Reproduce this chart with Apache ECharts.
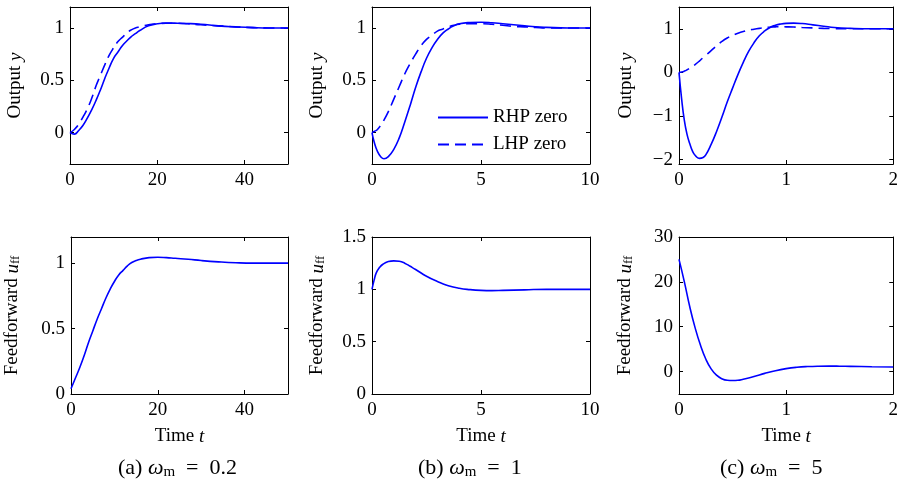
<!DOCTYPE html>
<html>
<head>
<meta charset="utf-8">
<script src="https://cdn.jsdelivr.net/npm/echarts@6/dist/echarts.min.js"></script>
<style>
  html, body { margin: 0; padding: 0; background: #fff; }
  #chart { width: 901px; height: 492px; }
</style>
</head>
<body>
<div id="chart"></div>
<script>
// (a) wm = 0.2
var tA = [0, 1, 2, 3, 4, 5, 6, 7, 8, 9, 10, 11, 12, 13, 14, 15, 16, 18, 20, 22, 24, 27, 30, 34, 38, 42, 46, 50];
var yA_rhp = [0, -0.015, 0.02, 0.07, 0.14, 0.22, 0.31, 0.41, 0.52, 0.62, 0.71, 0.77, 0.83, 0.875, 0.915, 0.945, 0.975, 1.02, 1.04, 1.047, 1.046, 1.042, 1.035, 1.02, 1.01, 1.003, 1.0, 1.0];
var yA_lhp = [0, 0.03, 0.08, 0.15, 0.23, 0.33, 0.45, 0.55, 0.65, 0.74, 0.81, 0.87, 0.91, 0.95, 0.98, 1.0, 1.01, 1.03, 1.04, 1.045, 1.045, 1.04, 1.03, 1.02, 1.01, 1.003, 1.0, 1.0];
var uA = [0.04, 0.12, 0.2, 0.29, 0.39, 0.48, 0.57, 0.65, 0.73, 0.8, 0.86, 0.91, 0.945, 0.98, 1.005, 1.02, 1.03, 1.042, 1.045, 1.042, 1.037, 1.03, 1.02, 1.01, 1.003, 1.0, 1.0, 1.0];

// (b) wm = 1
var tB = [0, 0.1, 0.25, 0.4, 0.55, 0.75, 1, 1.25, 1.5, 1.75, 2, 2.25, 2.5, 2.75, 3, 3.25, 3.5, 3.75, 4, 4.5, 5, 5.5, 6, 6.5, 7, 7.5, 8, 9, 10];
var yB_rhp = [0, -0.09, -0.18, -0.23, -0.25, -0.23, -0.16, -0.05, 0.1, 0.26, 0.43, 0.58, 0.71, 0.81, 0.89, 0.95, 0.99, 1.02, 1.04, 1.052, 1.055, 1.05, 1.04, 1.03, 1.02, 1.01, 1.005, 1.0, 1.0];
var yB_lhp = [0, 0.01, 0.03, 0.07, 0.12, 0.2, 0.32, 0.44, 0.56, 0.66, 0.75, 0.83, 0.89, 0.93, 0.97, 0.99, 1.01, 1.025, 1.035, 1.04, 1.04, 1.035, 1.025, 1.015, 1.01, 1.005, 1.0, 1.0, 1.0];
var tBu = [0, 0.1, 0.2, 0.35, 0.5, 0.75, 1, 1.25, 1.5, 1.75, 2, 2.5, 3, 3.5, 4, 4.5, 5, 5.5, 6, 7, 8, 9, 10];
var uB = [1.0, 1.09, 1.16, 1.21, 1.24, 1.265, 1.272, 1.268, 1.25, 1.22, 1.19, 1.125, 1.075, 1.035, 1.01, 0.997, 0.99, 0.988, 0.99, 0.995, 1.0, 1.0, 1.0];

// (c) wm = 5
var tC = [0, 0.025, 0.05, 0.075, 0.1, 0.125, 0.15, 0.19, 0.225, 0.25, 0.3, 0.35, 0.4, 0.45, 0.5, 0.55, 0.6, 0.65, 0.7, 0.75, 0.8, 0.85, 0.9, 0.95, 1.0, 1.07, 1.15, 1.25, 1.35, 1.45, 1.6, 1.8, 2.0];
var yC_rhp = [0, -0.62, -1.1, -1.42, -1.63, -1.8, -1.9, -1.97, -1.95, -1.89, -1.65, -1.36, -1.03, -0.68, -0.36, -0.05, 0.23, 0.48, 0.68, 0.84, 0.95, 1.03, 1.08, 1.11, 1.125, 1.13, 1.12, 1.09, 1.06, 1.03, 1.01, 1.0, 1.0];
var yC_lhp = [0, 0.01, 0.03, 0.06, 0.1, 0.14, 0.18, 0.26, 0.34, 0.39, 0.5, 0.61, 0.71, 0.79, 0.85, 0.9, 0.94, 0.97, 0.99, 1.01, 1.03, 1.04, 1.045, 1.047, 1.045, 1.04, 1.03, 1.02, 1.01, 1.005, 1.0, 1.0, 1.0];
var tCu = [0, 0.05, 0.1, 0.15, 0.2, 0.25, 0.3, 0.35, 0.4, 0.45, 0.5, 0.55, 0.6, 0.7, 0.8, 0.9, 1.0, 1.1, 1.2, 1.3, 1.4, 1.5, 1.6, 1.8, 2.0];
var uC = [25, 20.0, 14.5, 9.8, 5.9, 2.8, 0.6, -0.8, -1.6, -1.95, -2.0, -1.95, -1.7, -1.1, -0.4, 0.2, 0.65, 0.95, 1.12, 1.2, 1.22, 1.2, 1.16, 1.08, 1.03];

// axis ticks
var xTicksA = [0, 20, 40];
var xTicksB = [0, 5, 10];
var xTicksC = [0, 1, 2];
var yTicksOut = [0, 0.5, 1];
var yTicksOutC = [-2, -1, 0, 1];
var yTicksUA = [0, 0.5, 1];
var yTicksUB = [0, 0.5, 1, 1.5];
var yTicksUC = [0, 10, 20, 30];

var FONT = '"Liberation Serif", "Times New Roman", serif';
var FS = 19;
var BLUE = '#0000ff';

function zip(t, y) {
  return t.map(function (v, i) { return [v, y[i]]; });
}
function fmt(v) {
  return v < 0 ? '\u2212' + Math.abs(v) : String(v);
}

var richName = {
  r: { fontFamily: FONT, fontSize: FS, color: '#000' },
  i: { fontFamily: FONT, fontSize: FS, color: '#000', fontStyle: 'italic' },
  s: { fontFamily: FONT, fontSize: 13, color: '#000', verticalAlign: 'bottom', lineHeight: 14, padding: [8, 0, 0, 0] }
};

// panel layout: [left, top, width, height]
var panels = [
  { box: [70, 7, 218, 157], x: [0, 50], xt: xTicksA, y: [-0.3, 1.2], yt: yTicksOut, yName: '{r|Output }{i|y}', gap: 45 },
  { box: [372, 7, 218, 157], x: [0, 10], xt: xTicksB, y: [-0.3, 1.2], yt: yTicksOut, yName: '{r|Output }{i|y}', gap: 45 },
  { box: [679, 7, 219, 157], x: [0, 2], xt: xTicksC, y: [-2.1, 1.5], yt: yTicksOutC, yName: '{r|Output }{i|y}', gap: 43 },
  { box: [70, 237, 218, 157], x: [0, 50], xt: xTicksA, y: [0, 1.2], yt: yTicksUA, yName: '{r|Feedforward }{i|u}{s|ff}', gap: 49, xName: true },
  { box: [372, 237, 218, 157], x: [0, 10], xt: xTicksB, y: [0, 1.5], yt: yTicksUB, yName: '{r|Feedforward }{i|u}{s|ff}', gap: 45, xName: true },
  { box: [679, 237, 219, 157], x: [0, 2], xt: xTicksC, y: [-5, 30], yt: yTicksUC, yName: '{r|Feedforward }{i|u}{s|ff}', gap: 44, xName: true }
];

var grid = [], xAxis = [], yAxis = [];
var lineAx = { show: true, onZero: false, lineStyle: { color: '#000', width: 1 } };
panels.forEach(function (p, i) {
  grid.push({ left: p.box[0], top: p.box[1], width: p.box[2], height: p.box[3], containLabel: false });
  xAxis.push({
    type: 'value', gridIndex: i, min: p.x[0], max: p.x[1], position: 'bottom',
    axisLine: lineAx, splitLine: { show: false },
    axisTick: { inside: true, length: 4, customValues: p.xt, lineStyle: { color: '#000' } },
    axisLabel: { customValues: p.xt, margin: 7, color: '#000', fontFamily: FONT, fontSize: FS, formatter: fmt },
    name: p.xName ? '{r|Time }{i|t}' : '', nameLocation: 'middle', nameGap: 33,
    nameTextStyle: { rich: richName }
  });
  xAxis.push({
    type: 'value', gridIndex: i, min: p.x[0], max: p.x[1], position: 'top',
    axisLine: lineAx, splitLine: { show: false },
    axisTick: { inside: true, length: 4, customValues: p.xt, lineStyle: { color: '#000' } },
    axisLabel: { show: false }
  });
  yAxis.push({
    type: 'value', gridIndex: i, min: p.y[0], max: p.y[1], position: 'left',
    axisLine: lineAx, splitLine: { show: false },
    axisTick: { inside: true, length: 4, customValues: p.yt, lineStyle: { color: '#000' } },
    axisLabel: { customValues: p.yt, margin: 6, color: '#000', fontFamily: FONT, fontSize: FS, formatter: fmt },
    name: p.yName, nameLocation: 'middle', nameRotate: 90, nameGap: p.gap,
    nameTextStyle: { rich: richName }
  });
  yAxis.push({
    type: 'value', gridIndex: i, min: p.y[0], max: p.y[1], position: 'right',
    axisLine: lineAx, splitLine: { show: false },
    axisTick: { inside: true, length: 4, customValues: p.yt, lineStyle: { color: '#000' } },
    axisLabel: { show: false }
  });
});

function solid(name, i, data) {
  return {
    name: name, type: 'line', xAxisIndex: 2 * i, yAxisIndex: 2 * i, data: data,
    showSymbol: false, symbol: 'none', smooth: 0.5, silent: true,
    lineStyle: { color: BLUE, width: 1.6 }, itemStyle: { color: BLUE }
  };
}
function dashed(name, i, data) {
  var s = solid(name, i, data);
  s.lineStyle = { color: BLUE, width: 1.6, type: [11, 6] };
  return s;
}

var series = [
  solid('RHP zero', 0, zip(tA, yA_rhp)),
  dashed('LHP zero', 0, zip(tA, yA_lhp)),
  solid('RHP zero', 1, zip(tB, yB_rhp)),
  dashed('LHP zero', 1, zip(tB, yB_lhp)),
  solid('RHP zero', 2, zip(tC, yC_rhp)),
  dashed('LHP zero', 2, zip(tC, yC_lhp)),
  solid('uff a', 3, zip(tA, uA)),
  solid('uff b', 4, zip(tBu, uB)),
  solid('uff c', 5, zip(tCu, uC))
];

var capRich = {
  r: { fontFamily: FONT, fontSize: 22, fill: '#000' },
  w: { fontFamily: FONT, fontSize: 22, fill: '#000', fontStyle: 'italic' },
  s: { fontFamily: FONT, fontSize: 15, fill: '#000', padding: [9, 0, 0, 0] }
};
function caption(x, txt) {
  return {
    type: 'text', left: x, top: 457,
    style: { text: txt, rich: capRich, font: '22px ' + FONT, fill: '#000' }
  };
}

var chart = echarts.init(document.getElementById('chart'), null, { renderer: 'canvas' });
chart.setOption({
  animation: false,
  backgroundColor: '#fff',
  grid: grid,
  xAxis: xAxis,
  yAxis: yAxis,
  legend: {
    data: ['RHP zero', 'LHP zero'],
    orient: 'vertical', left: 432, top: 103,
    itemWidth: 50, itemHeight: 14, itemGap: 8,
    itemStyle: { opacity: 0 },
    textStyle: { fontFamily: FONT, fontSize: FS, color: '#000' },
    selectedMode: false
  },
  graphic: [
    caption(118, '{r|(a) }{w|\u03c9}{s|m}{r|  =  0.2}'),
    caption(418, '{r|(b) }{w|\u03c9}{s|m}{r|  =  1}'),
    caption(720, '{r|(c) }{w|\u03c9}{s|m}{r|  =  5}')
  ],
  series: series
});
</script>
</body>
</html>
